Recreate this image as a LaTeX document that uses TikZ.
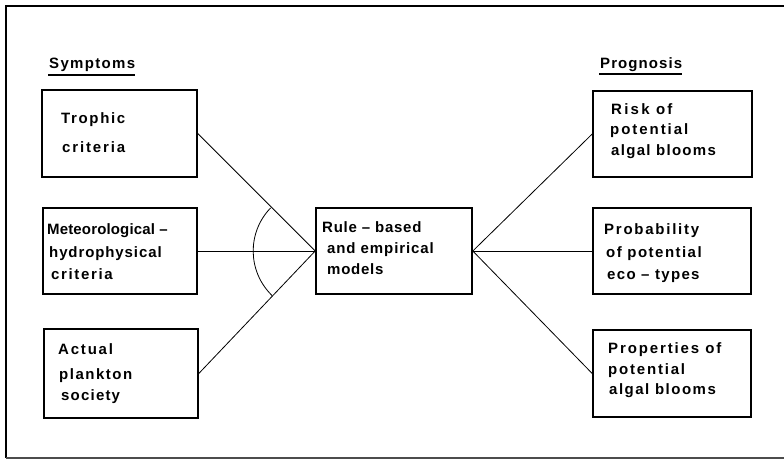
\documentclass[tikz,border=0pt]{standalone}
\usepackage{fontspec}
\setmainfont{Liberation Sans}
\begin{document}
\begin{tikzpicture}[x=1pt,y=-1pt,
  box/.style={draw,line width=1.6pt,minimum width=#1,inner sep=0pt},
  txt/.style={anchor=base west,inner sep=0pt,
    font=\fontsize{15}{18}\selectfont\bfseries\addfontfeatures{LetterSpace=#1}},
  link/.style={line width=0.8pt}]
\useasboundingbox (0,0) rectangle (784,460);
% outer frame, open to the right
\draw[line width=1.3pt] (790,6) -- (6,6) -- (6,458);
\draw[line width=1.3pt,black!70] (6,458) -- (790,458);

% column headings
\node[txt=8.9] (hsym) at (49,68) {Symptoms};
\draw[line width=1.2pt] (48,75) -- (135,75);
\node[txt=7.2] (hpro) at (600,68) {Prognosis};
\draw[line width=1.2pt] (599,74) -- (682,74);

% boxes
\node[box=155pt,minimum height=87pt] (troph) at (119.5,133.5) {};
\node[box=154pt,minimum height=86pt] (meteo) at (120,251) {};
\node[box=154pt,minimum height=89pt] (actual) at (121,373.5) {};
\node[box=156pt,minimum height=86pt] (rule) at (394,251) {};
\node[box=159pt,minimum height=86pt] (risk) at (672.5,134) {};
\node[box=158pt,minimum height=86pt] (prob) at (672,251) {};
\node[box=158pt,minimum height=87pt] (prop) at (672,373.5) {};

% box texts
\node[txt=11] (t1a) at (61,123) {Trophic};
\node[txt=12.4] (t1b) at (62,152) {criteria};
\node[txt=1] (t2a) at (47,234) {Meteorological --};
\node[txt=6] (t2b) at (49,257) {hydrophysical};
\node[txt=11] (t2c) at (51,279) {criteria};
\node[txt=12] (t3a) at (58,354) {Actual};
\node[txt=10] (t3b) at (59,379) {plankton};
\node[txt=8] (t3c) at (61,400) {society};
\node[txt=5] (t4a) at (322,232) {Rule -- based};
\node[txt=6] (t4b) at (327,253) {and empirical};
\node[txt=5] (t4c) at (327,274) {models};
\node[txt=15] (t5a) at (611,114) {Risk of};
\node[txt=13] (t5b) at (610,134) {potential};
\node[txt=8.7] (t5c) at (611,155) {algal blooms};
\node[txt=11.7] (t6a) at (604,234) {Probability};
\node[txt=9.8] (t6b) at (606,257) {of potential};
\node[txt=8.9] (t6c) at (607,279) {eco -- types};
\node[txt=12.5] (t7a) at (608,353) {Properties of};
\node[txt=12] (t7b) at (608,374) {potential};
\node[txt=10] (t7c) at (609,394) {algal blooms};

% connectors
\draw[link] (troph.east) -- (rule.west);
\draw[link] (meteo.east) -- (rule.west);
\draw[link] (actual.east) -- (rule.west);
\draw[link] (rule.east) -- (risk.west);
\draw[link] (rule.east) -- (prob.west);
\draw[link] (rule.east) -- (prop.west);

% angle arc across the three inputs
\draw[link] (rule.west) ++(224:62) arc[start angle=224,end angle=134,radius=62];
\end{tikzpicture}
\end{document}
